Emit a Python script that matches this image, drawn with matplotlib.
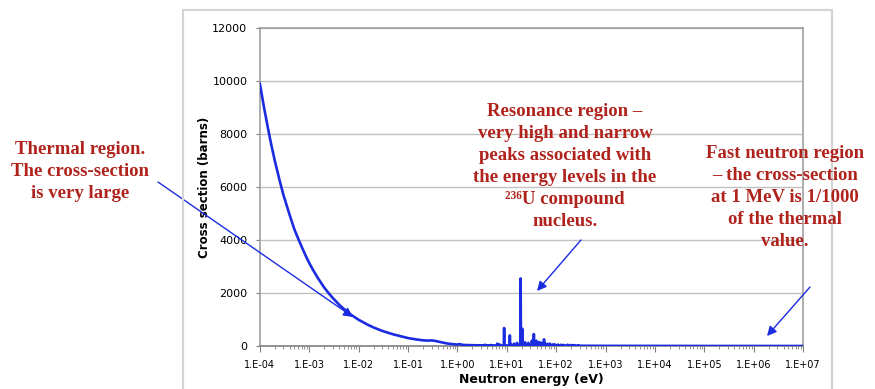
import matplotlib
matplotlib.use("Agg")
import matplotlib.pyplot as plt
import matplotlib.patches as patches
from matplotlib.ticker import FixedLocator, LogLocator, NullFormatter

# smooth (1/v) part of the U-235 fission cross-section
base_energy = [1e-4, 1.2e-4, 1.5e-4, 1.7e-4, 2e-4, 2.5e-4, 3e-4, 4e-4, 5e-4, 6e-4,
               7e-4, 8.5e-4, 1e-3, 1.2e-3, 1.5e-3, 2e-3, 2.5e-3, 3e-3, 4e-3, 5e-3,
               6e-3, 7e-3, 8.5e-3, 1e-2, 1.5e-2, 2e-2, 3e-2, 4e-2, 5e-2, 7e-2,
               0.1, 0.15, 0.2, 0.25, 0.3, 0.35, 0.45, 0.6, 0.8, 1.0,
               1.1, 1.3, 2.0, 3.0, 5.0, 8.0, 30.0, 100.0, 300.0, 1e3,
               1e4, 1e5, 1e6, 1e7]
base_xs = [9900, 9050, 8100, 7600, 7000, 6260, 5700, 4950, 4400, 4040,
           3750, 3400, 3130, 2860, 2560, 2210, 1980, 1810, 1565, 1400,
           1280, 1180, 1075, 990, 810, 700, 570, 495, 440, 370,
           300, 245, 215, 205, 210, 195, 150, 100, 70, 55,
           75, 40, 30, 25, 22, 20, 20, 15, 10, 6,
           3, 2, 1.5, 1]

# resonance peaks (eV, barns)
res_energy = [3.6, 4.8, 6.4, 7.1, 8.8, 11.5, 12.4, 14.0, 16.1, 19.0, 20.5, 23.4,
              27.2, 32.1, 35.2, 39.4, 41.8, 44.5, 49.3, 56.5, 60.2, 66.0,
              73.5, 83.0, 92.0, 108.0, 125.0, 140.0, 170.0, 200.0, 230.0, 280.0]
res_xs = [50, 40, 90, 60, 680, 400, 60, 90, 120, 2550, 650, 140,
          120, 200, 450, 200, 120, 150, 130, 250, 90, 80,
          90, 60, 70, 55, 50, 45, 50, 40, 35, 30]

y_ticks = [0, 2000, 4000, 6000, 8000, 10000, 12000]
x_ticks = [1e-4, 1e-3, 1e-2, 1e-1, 1e0, 1e1, 1e2, 1e3, 1e4, 1e5, 1e6, 1e7]
x_tick_labels = ["1.E-04", "1.E-03", "1.E-02", "1.E-01", "1.E+00", "1.E+01",
                 "1.E+02", "1.E+03", "1.E+04", "1.E+05", "1.E+06", "1.E+07"]


def background_at(e):
    # value of the smooth part at e (nearest tabulated point below)
    val = base_xs[0]
    for be, bx in zip(base_energy, base_xs):
        if be <= e:
            val = bx
    return val


# merge smooth part and narrow spikes into one line
pts = list(zip(base_energy, base_xs))
for e, s in zip(res_energy, res_xs):
    b = background_at(e)
    pts += [(e * 0.985, b), (e, s), (e * 1.015, b)]
pts.sort()
energy = [p[0] for p in pts]
xs = [p[1] for p in pts]

fig = plt.figure(figsize=(8.75, 3.89), dpi=100)
ax = fig.add_axes([0.297, 0.1105, 0.621, 0.8175])

# grey frame of the embedded chart
fig.patches.append(patches.Rectangle((0.209, -0.1), 0.742, 1.074, transform=fig.transFigure,
                                     fill=False, edgecolor="#D4D4D4", linewidth=1.6))

ax.plot(energy, xs, color="#1A2BE0", linewidth=1.9, zorder=3)

ax.set_xscale("log")
ax.set_xlim(1e-4, 1e7)
ax.set_ylim(0, 12000)
ax.xaxis.set_major_locator(FixedLocator(x_ticks))
ax.set_xticklabels(x_tick_labels)
ax.xaxis.set_minor_locator(LogLocator(base=10, subs=range(2, 10), numticks=30))
ax.xaxis.set_minor_formatter(NullFormatter())
ax.set_yticks(y_ticks)
ax.yaxis.grid(True, color="#C0C0C0", linewidth=1)
ax.set_axisbelow(True)
for sp in ax.spines.values():
    sp.set_color("#A0A0A0")
    sp.set_linewidth(1.2)
ax.spines["bottom"].set_color("#808080")
ax.tick_params(axis="x", which="major", labelsize=7, length=4, color="#808080", pad=6)
ax.tick_params(axis="x", which="minor", length=2, color="#808080")
ax.tick_params(axis="y", labelsize=8, length=3, color="#808080", pad=6)

ax.set_xlabel("Neutron energy (eV)", fontsize=9, fontweight="bold", labelpad=2)
ax.set_ylabel("Cross section (barns)", fontsize=8.5, fontweight="bold", labelpad=1)

red = "#B0231C"
tkw = dict(fontsize=13.5, fontweight="bold", color=red, family=["Liberation Serif", "DejaVu Serif"],
           ha="center", va="top", linespacing=1.39, transform=fig.transFigure)
fig.text(80 / 875, 1 - 141 / 389, "Thermal region.\nThe cross-section\nis very large", **tkw)
fig.text(565 / 875, 1 - 103 / 389,
         "Resonance region \u2013\nvery high and narrow\npeaks associated with\n"
         "the energy levels in the\n\u00b2\u00b3\u2076U compound\nnucleus.", **tkw)
fig.text(785 / 875, 1 - 145 / 389,
         "Fast neutron region\n\u2013 the cross-section\nat 1 MeV is 1/1000\nof the thermal\nvalue.", **tkw)

akw = dict(arrowstyle="-|>", color="#1A2BE0", lw=1.0, mutation_scale=14, shrinkA=0, shrinkB=0)
for (x0, y0), (x1, y1) in [((158, 182), (353, 317)),
                           ((581, 240), (537, 291)),
                           ((810, 287), (767, 336))]:
    ax.annotate("", xy=(x1 / 875, 1 - y1 / 389), xycoords=fig.transFigure,
                xytext=(x0 / 875, 1 - y0 / 389), textcoords=fig.transFigure,
                arrowprops=akw, annotation_clip=False)

fig.savefig("out.png", dpi=100)
